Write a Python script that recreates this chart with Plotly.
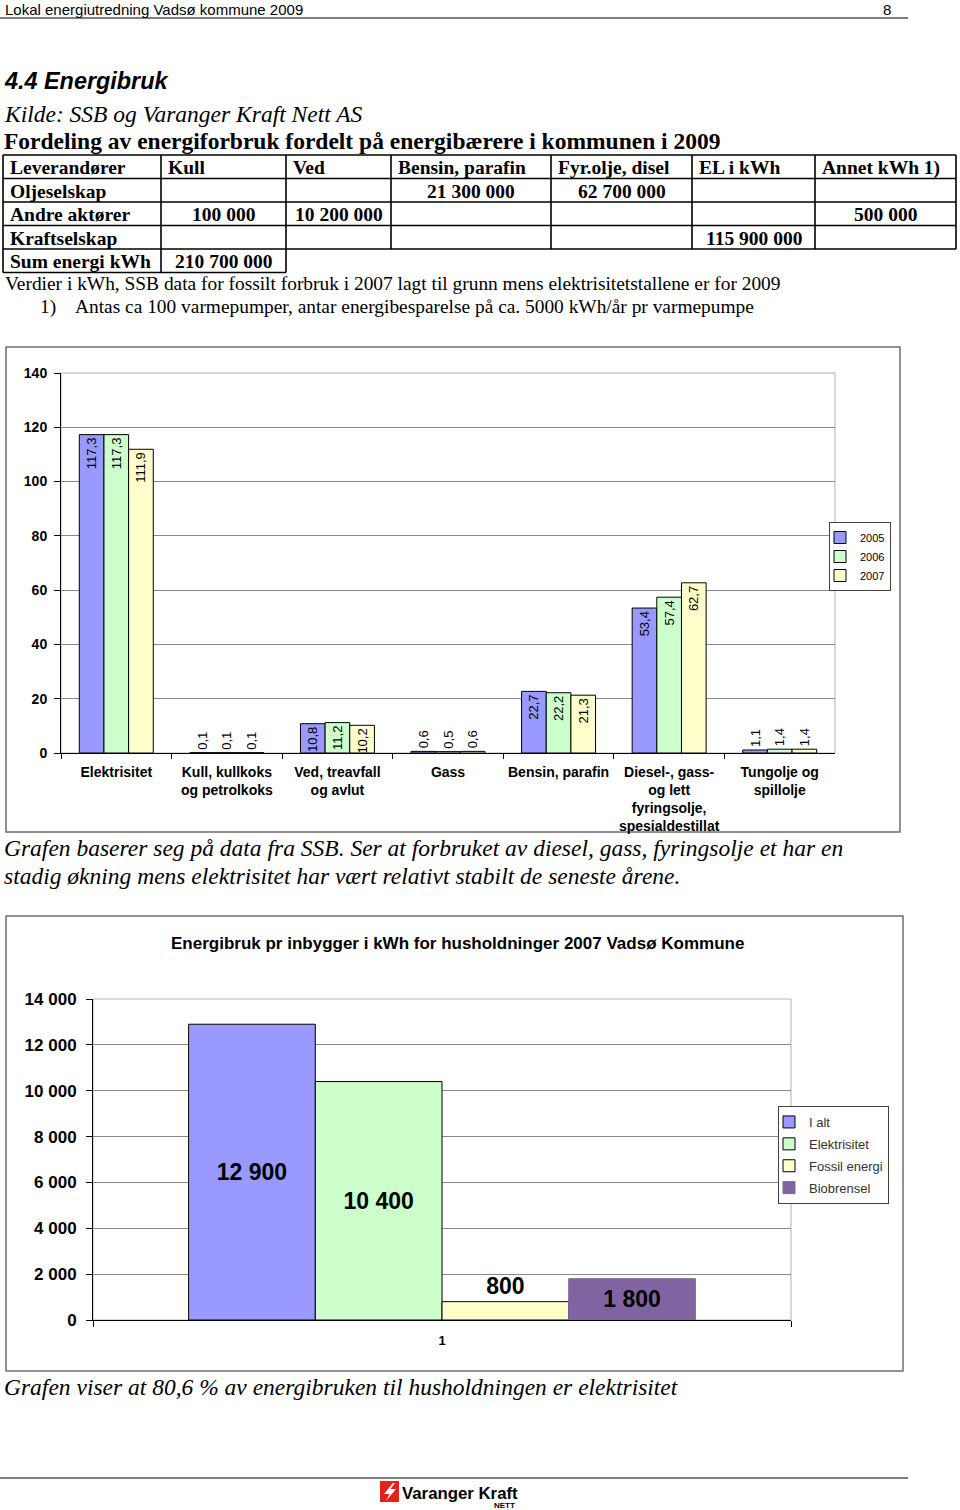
import plotly.graph_objects as go

W, H = 960, 1510


def X(px):
    return px / W


def Y(py):
    return 1 - py / H


# ------------------------------------------------------------------ data
header_left = "Lokal energiutredning Vadsø kommune 2009"
page_number = "8"
section_title = "4.4 Energibruk"
source_text = "Kilde: SSB og Varanger Kraft Nett AS"
table_title = "Fordeling av energiforbruk fordelt på energibærere i kommunen i 2009"

table_columns = ["Leverandører", "Kull", "Ved", "Bensin, parafin",
                 "Fyr.olje, disel", "EL i kWh", "Annet kWh 1)"]
row_oljeselskap = ["Oljeselskap", "", "", "21 300 000", "62 700 000", "", ""]
row_andre = ["Andre aktører", "100 000", "10 200 000", "", "", "", "500 000"]
row_kraft = ["Kraftselskap", "", "", "", "", "115 900 000", ""]
row_sum = ["Sum energi kWh", "210 700 000"]

note_line = ("Verdier i kWh, SSB data for fossilt forbruk i 2007 lagt til grunn "
             "mens elektrisitetstallene er for 2009")
footnote_mark = "1)"
footnote_text = ("Antas ca 100 varmepumper, antar energibesparelse på ca. "
                 "5000 kWh/år pr varmepumpe")

energy_categories = [
    "Elektrisitet",
    "Kull, kullkoks<br>og petrolkoks",
    "Ved, treavfall<br>og avlut",
    "Gass",
    "Bensin, parafin",
    "Diesel-, gass-<br>og lett<br>fyringsolje,<br>spesialdestillat",
    "Tungolje og<br>spillolje",
]
years = ["2005", "2006", "2007"]
values_2005 = [117.3, 0.1, 10.8, 0.6, 22.7, 53.4, 1.1]
values_2006 = [117.3, 0.1, 11.2, 0.5, 22.2, 57.4, 1.4]
values_2007 = [111.9, 0.1, 10.2, 0.6, 21.3, 62.7, 1.4]
year_colors = ["#9999FF", "#CCFFCC", "#FFFFCC"]

comment1_line1 = ("Grafen baserer seg på data fra SSB. Ser at forbruket av diesel, "
                  "gass, fyringsolje et har en")
comment1_line2 = ("stadig økning mens elektrisitet har vært relativt stabilt "
                  "de seneste årene.")

chart2_title = "Energibruk pr inbygger i kWh for husholdninger 2007 Vadsø Kommune"
household_series = ["I alt", "Elektrisitet", "Fossil energi", "Biobrensel"]
household_values = [12900, 10400, 800, 1800]
household_category = ["1"]
household_colors = ["#9999FF", "#CCFFCC", "#FFFFCC", "#8064A2"]
household_outline = ["#000000", "#000000", "#000000", "#8064A2"]
household_textpos = ["inside", "inside", "outside", "inside"]

comment2 = "Grafen viser at 80,6 % av energibruken til husholdningen er elektrisitet"
logo_text = "Varanger Kraft"
logo_sub = "NETT"

SANS = "Liberation Sans"
SERIF = "Liberation Serif"

# ------------------------------------------------------------------ figure
fig = go.Figure()

# chart 1: grouped bars
for name, vals, col in zip(years, [values_2005, values_2006, values_2007], year_colors):
    fig.add_trace(go.Bar(
        name=name, x=energy_categories, y=vals,
        marker=dict(color=col, line=dict(color="#000000", width=1)),
        text=[f"{v:.1f}".replace(".", ",") for v in vals],
        textposition=["inside" if v >= 10 else "outside" for v in vals],
        insidetextanchor="end", textangle=-90, constraintext="none",
        textfont=dict(family=SANS, size=13, color="#000000"),
        cliponaxis=False, xaxis="x", yaxis="y", legend="legend",
        hoverinfo="skip",
    ))

# chart 2: household bars
n = len(household_series)
bw = 0.1815
for i, (name, val, col, oc, tp) in enumerate(zip(household_series, household_values,
                                                 household_colors, household_outline,
                                                 household_textpos)):
    fig.add_trace(go.Bar(
        name=name, x=household_category, y=[val],
        width=bw, offset=-bw * n / 2 + i * bw,
        marker=dict(color=col, line=dict(color=oc, width=1)),
        text=[f"{val:,}".replace(",", " ")],
        textposition=tp, insidetextanchor="middle", textangle=0,
        constraintext="none",
        textfont=dict(family=SANS, size=23, color="#000000", weight="bold"),
        cliponaxis=False, xaxis="x2", yaxis="y2", legend="legend2",
        legendgroup=f"g{i}",
        hoverinfo="skip",
    ))

# ------------------------------------------------------------------ shapes
shapes = []


def hline(y, x0, x1, w=1.0, c="#000000"):
    shapes.append(dict(type="line", xref="paper", yref="paper",
                       x0=X(x0), x1=X(x1), y0=Y(y), y1=Y(y),
                       line=dict(color=c, width=w)))


def vline(x, y0, y1, w=1.0, c="#000000"):
    shapes.append(dict(type="line", xref="paper", yref="paper",
                       x0=X(x), x1=X(x), y0=Y(y0), y1=Y(y1),
                       line=dict(color=c, width=w)))


hline(18, 0, 908, 1.2)
hline(1478, 0, 908, 1.2)

col_edges = [3, 161, 286, 391, 551, 692, 815, 956]
row_edges = [155, 178.5, 202, 225.5, 249, 272.5]
for r in row_edges[:5]:
    hline(r, col_edges[0], col_edges[-1], 1.6)
hline(row_edges[5], col_edges[0], col_edges[2], 1.6)
for c in col_edges:
    vline(c, row_edges[0], row_edges[4], 1.6)
for c in col_edges[:3]:
    vline(c, row_edges[4], row_edges[5], 1.6)

# chart frames
for (x0, y0, x1, y1) in [(6, 347, 900, 832), (6, 916, 903, 1371)]:
    shapes.append(dict(type="rect", xref="paper", yref="paper",
                       x0=X(x0), x1=X(x1), y0=Y(y1), y1=Y(y0),
                       line=dict(color="#6e6e6e", width=1.5), layer="below"))
# plot-area outlines
for xr, yr in [("x domain", "y domain"), ("x2 domain", "y2 domain")]:
    shapes.append(dict(type="rect", xref=xr, yref=yr, x0=0, x1=1, y0=0, y1=1,
                       line=dict(color="#b0b0b0", width=1), layer="below"))

# logo
shapes.append(dict(type="rect", xref="paper", yref="paper",
                   x0=X(380), x1=X(399), y0=Y(1502), y1=Y(1481),
                   fillcolor="#E2231A", line=dict(width=0)))
bolt = [(393, 1483), (384, 1494), (389.5, 1494), (386, 1501), (396, 1489),
        (390.5, 1489), (395, 1483)]
path = "M " + " L ".join(f"{X(a):.5f},{Y(b):.5f}" for a, b in bolt) + " Z"
shapes.append(dict(type="path", xref="paper", yref="paper", path=path,
                   fillcolor="#FFFFFF", line=dict(width=0)))

# ------------------------------------------------------------------ annotations
ann = []


def text(x, y, s, size, family=SANS, anchor="left", color="#000000"):
    ann.append(dict(x=X(x), y=Y(y), xref="paper", yref="paper", text=s,
                    showarrow=False, xanchor=anchor, yanchor="middle",
                    font=dict(family=family, size=size, color=color)))


text(3, 9, header_left, 15)
text(893, 9, page_number, 15, anchor="right")
text(2, 81, f"<b><i>{section_title}</i></b>", 23.4)
text(2, 114, f"<i>{source_text}</i>", 23.5, family=SERIF)
text(2, 141, f"<b>{table_title}</b>", 23.5, family=SERIF)

# table
rows = [table_columns, row_oljeselskap, row_andre, row_kraft, row_sum]
for ri, row in enumerate(rows):
    yc = (row_edges[ri] + row_edges[ri + 1]) / 2 + 1
    for ci, cell in enumerate(row):
        if not cell:
            continue
        if ri == 0 or ci == 0:
            text(col_edges[ci] + 5, yc, f"<b>{cell}</b>", 19.5, family=SERIF)
        else:
            xc = (col_edges[ci] + col_edges[ci + 1]) / 2
            text(xc, yc, f"<b>{cell}</b>", 19.5, family=SERIF, anchor="center")

text(3, 284, note_line, 19.4, family=SERIF)
text(38, 307, footnote_mark, 19.4, family=SERIF)
text(73, 307, footnote_text, 19.4, family=SERIF)

text(2, 848, f"<i>{comment1_line1}</i>", 23.5, family=SERIF)
text(2, 876, f"<i>{comment1_line2}</i>", 23.5, family=SERIF)
text(457, 944, f"<b>{chart2_title}</b>", 17, anchor="center")
text(2, 1387, f"<i>{comment2}</i>", 23.5, family=SERIF)

text(400, 1493, f"<b>{logo_text}</b>", 16.8)
ann.append(dict(x=X(517), y=Y(1505), xref="paper", yref="paper",
                text=f"<b>{logo_sub}</b>", showarrow=False, xanchor="right",
                yanchor="middle", font=dict(family=SANS, size=8, color="#000000")))

# ------------------------------------------------------------------ layout
fig.update_layout(
    width=W, height=H,
    margin=dict(l=0, r=0, t=0, b=0, pad=0, autoexpand=False),
    paper_bgcolor="#FFFFFF", plot_bgcolor="#FFFFFF",
    separators=", ",
    barmode="group", bargap=0.331, bargroupgap=0,
    font=dict(family=SANS, color="#000000"),
    showlegend=True,
    shapes=shapes, annotations=ann,
    xaxis=dict(domain=[X(61), X(835)], anchor="y", type="category",
               automargin=False,
               showline=True, linecolor="#000000", linewidth=1,
               ticks="outside", tickson="boundaries", ticklen=5,
               tickcolor="#000000", showgrid=False, ticklabelstandoff=6,
               tickfont=dict(family=SANS, size=14, weight="bold")),
    yaxis=dict(domain=[Y(753), Y(373)], anchor="x", range=[0, 140], dtick=20,
               automargin=False,
               showline=True, linecolor="#000000", linewidth=1,
               ticks="outside", ticklen=6, tickcolor="#000000",
               showgrid=True, gridcolor="#8a8a8a", gridwidth=1, zeroline=False,
               ticklabelstandoff=4,
               tickfont=dict(family=SANS, size=14, weight="bold")),
    xaxis2=dict(domain=[X(93), X(791)], anchor="y2", type="category",
                automargin=False,
                showline=True, linecolor="#000000", linewidth=1,
                ticks="outside", tickson="boundaries", ticklen=6,
                tickcolor="#000000", showgrid=False, ticklabelstandoff=8,
                tickfont=dict(family=SANS, size=13, weight="bold")),
    yaxis2=dict(domain=[Y(1320), Y(999)], anchor="x2", range=[0, 14000],
                dtick=2000, tickformat=",.0f", automargin=False,
                showline=True, linecolor="#000000", linewidth=1,
                ticks="outside", ticklen=6, tickcolor="#000000",
                showgrid=True, gridcolor="#8a8a8a", gridwidth=1, zeroline=False,
                ticklabelstandoff=6,
                tickfont=dict(family=SANS, size=17, weight="bold")),
    legend=dict(x=X(829), y=Y(522), xanchor="left", yanchor="top",
                bgcolor="#FFFFFF", bordercolor="#404040", borderwidth=1,
                indentation=-10,
                font=dict(family=SANS, size=11, color="#000000"),
                traceorder="normal"),
    legend2=dict(x=X(778), y=Y(1106), xanchor="left", yanchor="top",
                 bgcolor="#FFFFFF", bordercolor="#404040", borderwidth=1,
                 indentation=-10, tracegroupgap=2,
                 font=dict(family=SANS, size=13, color="#333333"),
                 traceorder="grouped"),
)

fig.write_html("out.html")
